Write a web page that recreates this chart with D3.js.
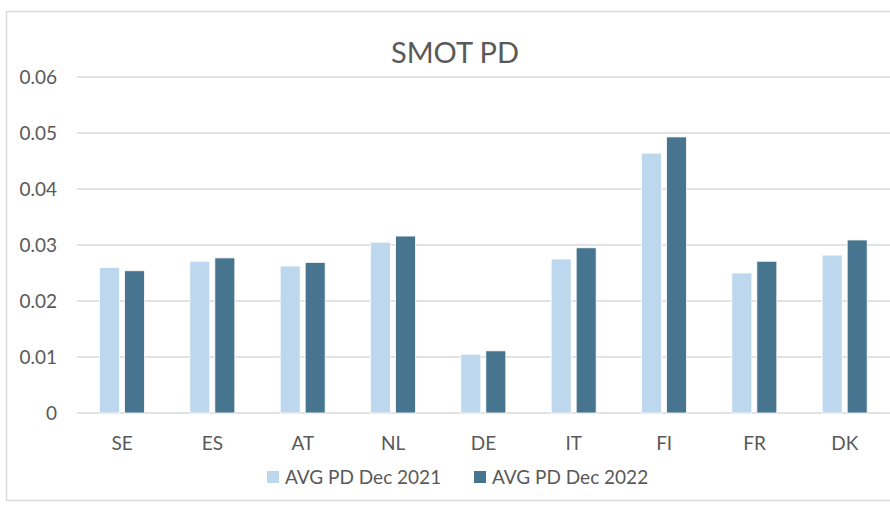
<!DOCTYPE html>
<html>
<head>
<meta charset="utf-8">
<script src="https://cdn.jsdelivr.net/npm/d3@7"></script>
<style>
  body { margin: 0; background: #fff; }
  text { font-family: Lato, "Open Sans", sans-serif; fill: #595959; }
</style>
</head>
<body>
<svg id="chart" width="890" height="507"></svg>
<script>
const countries = ["SE", "ES", "AT", "NL", "DE", "IT", "FI", "FR", "DK"];
const pd2021 = [0.0260, 0.0271, 0.02625, 0.0305, 0.0105, 0.0275, 0.0464, 0.0250, 0.0282];
const pd2022 = [0.0254, 0.0277, 0.0269, 0.0316, 0.0111, 0.0295, 0.0493, 0.0271, 0.0309];
const seriesNames = ["AVG PD Dec 2021", "AVG PD Dec 2022"];
const yTicks = [0, 0.01, 0.02, 0.03, 0.04, 0.05, 0.06];

const colors = ["#bdd7ee", "#47758f"];

var margin = { top: 77, left: 77, right: 0, bottom: 94 },
    width = 890 - margin.left - margin.right,
    height = 507 - margin.top - margin.bottom;

var svg = d3.select("#chart");

// chart frame
svg.append("rect")
  .attr("x", 6.5).attr("y", 11.5)
  .attr("width", 900).attr("height", 489)
  .attr("fill", "none")
  .attr("stroke", "#d9d9d9")
  .attr("stroke-width", 1.5);

svg.append("text")
  .attr("x", 455).attr("y", 63)
  .attr("text-anchor", "middle")
  .style("font-size", "29px")
  .text("SMOT PD");

var g = svg.append("g").attr("transform", "translate(" + margin.left + "," + margin.top + ")");

var x = d3.scaleBand().domain(countries).range([0, width]).paddingInner(0).paddingOuter(0);
var x1 = d3.scaleBand().domain([0, 1]).range([22.5, 67.5]).paddingInner(0.2);
var y = d3.scaleLinear().domain([0, 0.06]).range([height, 0]);

// gridlines
g.selectAll(".grid")
  .data(yTicks)
  .enter().append("line")
  .attr("x1", 0).attr("x2", width)
  .attr("y1", d => y(d)).attr("y2", d => y(d))
  .attr("stroke", "#d9d9d9")
  .attr("stroke-width", 1.5);

// y tick labels
g.selectAll(".ylab")
  .data(yTicks)
  .enter().append("text")
  .attr("x", -20)
  .attr("y", d => y(d))
  .attr("dy", "0.35em")
  .attr("text-anchor", "end")
  .style("font-size", "19px")
  .text(d => d === 0 ? "0" : d3.format(".2f")(d));

// bars
var series = [pd2021, pd2022];
series.forEach(function(vals, s) {
  g.selectAll(".bar" + s)
    .data(vals)
    .enter().append("rect")
    .attr("x", (d, i) => x(countries[i]) + x1(s))
    .attr("width", x1.bandwidth())
    .attr("y", d => y(d))
    .attr("height", d => height - y(d))
    .attr("fill", colors[s])
    .attr("stroke", "#fff")
    .attr("stroke-width", 0.8);
});

// x labels
g.selectAll(".xlab")
  .data(countries)
  .enter().append("text")
  .attr("x", d => x(d) + x.bandwidth() / 2)
  .attr("y", height + 37)
  .attr("text-anchor", "middle")
  .style("font-size", "19px")
  .text(d => d);

// legend
var legendX = [267, 474];
var legend = svg.selectAll(".legend")
  .data(seriesNames)
  .enter().append("g")
  .attr("transform", (d, i) => "translate(" + legendX[i] + ",471)");

legend.append("rect")
  .attr("width", 12).attr("height", 12)
  .attr("fill", (d, i) => colors[i]);

legend.append("text")
  .attr("x", 18).attr("y", 13)
  .style("font-size", "19px")
  .text(d => d);
</script>
</body>
</html>
